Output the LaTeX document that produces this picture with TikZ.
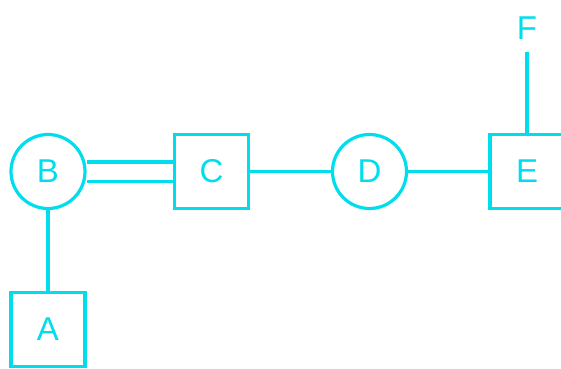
\documentclass[tikz,border=0pt]{standalone}
\usepackage{fontspec}
\setmainfont{Liberation Sans}
\usepackage{tikz}
\usetikzlibrary{positioning}
\definecolor{cian}{RGB}{0, 222, 238}

\begin{document}
\begin{tikzpicture}[x=1pt, y=-1pt, line width=3.2pt,
    caja/.style={draw=cian, rectangle, minimum size=74pt, inner sep=0pt, text=cian, font=\fontsize{33}{33}\selectfont},
    bola/.style={draw=cian, circle, minimum size=74pt, inner sep=0pt, text=cian, font=\fontsize{33}{33}\selectfont}]
            \useasboundingbox (0,0) rectangle (561,368);

            % Nodos
            \node[bola] (b) at (48,171.5) {B};
            \node[caja] (c) at (211.5,171.5) {C};
            \node[bola] (d) at (369.5,171.5) {D};
            \node[caja] (e) at (527,171.5) {E};
            \node[caja] (a) at (48,329.5) {A};
            \node[text=cian, font=\fontsize{33}{33}\selectfont, inner sep=0pt] (f) at (527,28) {F};
            \coordinate (fpie) at (527,52);

            % Enlaces
            \draw[cian, double=white, double distance=16pt] (b) -- (c);
            \draw[cian] (c) -- (d);
            \draw[cian] (d) -- (e);
            \draw[cian] (b) -- (a);
            \draw[cian] (e) -- (fpie);
        \end{tikzpicture}
\end{document}
